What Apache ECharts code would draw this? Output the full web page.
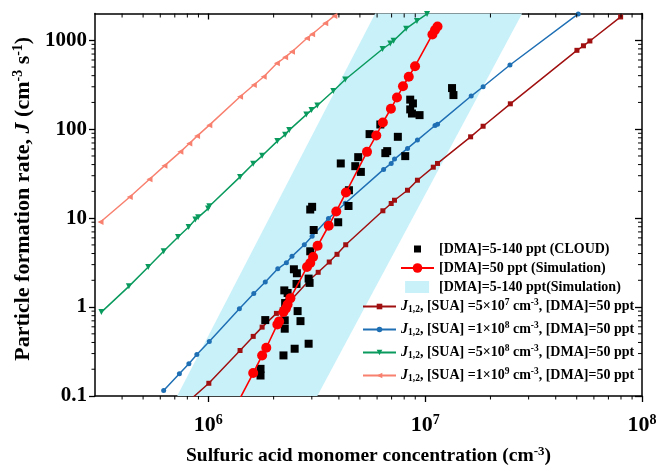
<!DOCTYPE html>
<html><head><meta charset="utf-8">
<script src="https://cdn.jsdelivr.net/npm/echarts@6/dist/echarts.min.js"></script>
<style>html,body{margin:0;padding:0;background:#fff}#c{width:657px;height:465px}</style>
</head><body><div id="c"></div>
<script>
// ---- axes ----
const xRange = [3e5, 1e8];
const yRange = [0.1, 2000];
const xMajorTicks = [1e6, 1e7, 1e8];
const yMajorTicks = [0.1, 1, 10, 100, 1000];
const xMinorTicks = [4e5,5e5,6e5,7e5,8e5,9e5,2e6,3e6,4e6,5e6,6e6,7e6,8e6,9e6,2e7,3e7,4e7,5e7,6e7,7e7,8e7,9e7];
const yMinorTicks = [0.2,0.3,0.4,0.5,0.6,0.7,0.8,0.9,2,3,4,5,6,7,8,9,20,30,40,50,60,70,80,90,200,300,400,500,600,700,800,900];

// ---- series names ----
const names = [
  '[DMA]=5-140 ppt (CLOUD)',
  '[DMA]=50 ppt (Simulation)',
  '[DMA]=5-140 ppt(Simulation)',
  'J1,2, [SUA] =5x10^7 cm-3, [DMA]=50 ppt',
  'J1,2, [SUA] =1x10^8 cm-3, [DMA]=50 ppt',
  'J1,2, [SUA] =5x10^8 cm-3, [DMA]=50 ppt',
  'J1,2, [SUA] =1x10^9 cm-3, [DMA]=50 ppt'
];
const suaMantissa = ['5', '1', '5', '1'];
const suaExponent = ['7', '8', '8', '9'];

// ---- data ----
const cloudX = [1.33e7,1.35e7,8.53e6,8.78e6,8.53e6,8.69e6,9.42e6,7.48e6,6.21e6,5.54e6,6.55e6,6.68e6,8.09e6,4.08e6,4.76e6,4.91e6,5.05e6,4.45e6,4.43e6,3.97e6,3.01e6,2.95e6,3.06e6,2.95e6,2.48e6,2.56e6,2.55e6,2.90e6,2.93e6,2.24e6,2.32e6,2.37e6,2.26e6,2.58e6,2.66e6,1.83e6,2.25e6,2.25e6,2.22e6,2.50e6,2.90e6,1.74e6,1.74e6];
const cloudY = [290,242,215,195,167,150,144,82.1,113,88.1,53.8,56.7,49.8,41.2,38.4,48.5,33.1,20.6,13.7,8.99,13.4,12.5,7.36,4.24,2.66,2.40,1.82,2.09,1.87,1.54,1.44,1.26,1.11,0.901,0.695,0.714,0.709,0.571,0.286,0.340,0.387,0.202,0.170];

const simX = [1.375e6,1.61e6,1.77e6,1.85e6,2.08e6,2.12e6,2.22e6,2.28e6,2.32e6,2.39e6,2.85e6,2.95e6,3.04e6,3.19e6,3.59e6,3.89e6,4.31e6,5.39e6,5.95e6,6.38e6,6.95e6,7.41e6,7.90e6,8.40e6,8.98e6,1.08e7,1.11e7,1.14e7];
const simY = [0.0867,0.181,0.286,0.349,0.638,0.690,0.879,0.967,1.07,1.26,2.82,3.13,3.66,4.89,8.21,11.9,19.4,55.6,85.1,119,170,227,304,389,511,1162,1306,1430];

const bandY = [0.1, 2000];
const bandLeftX = [7.18e5, 5.88e6];
const bandRightX = [3.18e6, 2.80e7];

const sua5e7X = [7.43e5,1.005e6,1.40e6,1.61e6,1.77e6,2.06e6,2.19e6,2.92e6,3.21e6,3.61e6,3.92e6,4.30e6,6.38e6,6.97e6,7.22e6,8.29e6,9.21e6,1.09e7,1.14e7,1.62e7,1.85e7,2.47e7,5.01e7,5.37e7,5.75e7,7.97e7];
const sua5e7Y = [0.0723,0.139,0.325,0.468,0.595,0.849,0.935,2.00,2.46,3.21,3.92,5.02,12.1,14.6,15.9,20.6,26.7,37.4,41.2,82.1,108,193,771,867,982,1829];

const sua1e8X = [6.22e5,7.35e5,8.13e5,8.85e5,1.01e6,1.39e6,1.62e6,1.83e6,2.09e6,2.29e6,2.43e6,2.77e6,3.01e6,3.58e6,4.28e6,6.43e6,6.97e6,7.22e6,8.29e6,9.21e6,1.11e7,1.14e7,1.63e7,1.85e7,2.46e7,5.08e7];
const sua1e8Y = [0.115,0.178,0.231,0.293,0.411,0.959,1.42,1.91,2.69,3.16,3.72,5.02,6.25,9.90,14.7,35.3,41.2,46.1,60.8,75.4,110,114,236,300,527,1978];

const sua5e8X = [3.21e5,4.30e5,5.28e5,6.22e5,7.25e5,8.11e5,8.71e5,8.97e5,9.97e5,1.01e6,1.40e6,1.61e6,1.77e6,2.08e6,2.26e6,2.36e6,2.83e6,2.99e6,3.18e6,3.77e6,4.28e6,6.36e6,6.90e6,7.15e6,8.17e6,9.16e6,1.02e7];
const sua5e8Y = [0.878,1.71,2.82,4.24,6.14,7.96,9.64,10.2,12.8,13.6,29.1,40.8,50.2,73.5,86.9,97.7,146,164,185,269,362,798,920,989,1351,1649,1977];

const sua1e9X = [3.18e5,4.34e5,5.35e5,6.27e5,7.43e5,8.17e5,8.87e5,1.01e6,1.40e6,1.62e6,1.80e6,2.07e6,2.26e6,2.43e6,2.85e6,3.01e6,3.46e6,3.81e6];
const sua1e9Y = [9.06,17.3,27.4,38.7,55.6,69.2,83.6,111,232,314,389,551,644,744,1054,1169,1554,1878];

// ---- styling ----
const F = '"Liberation Serif","Times New Roman",serif';
const colors = {cloud:'#000000', sim:'#ff0000', band:'#c9f1fa', s5e7:'#a01010', s1e8:'#1f6fb4', s5e8:'#0a9a5e', s1e9:'#f8806f'};
const zip = (a, b) => a.map((v, i) => [v, b[i]]);

const chart = echarts.init(document.getElementById('c'), null, {renderer: 'canvas'});

const LF = 14;
const richBase = {
  t: {fontFamily: F, fontWeight: 'bold', fontSize: LF, color: '#000', lineHeight: 17},
  i: {fontFamily: F, fontWeight: 'bold', fontStyle: 'italic', fontSize: LF, color: '#000', lineHeight: 17},
  sub: {fontFamily: F, fontWeight: 'bold', fontSize: 9.5, color: '#000', verticalAlign: 'bottom', lineHeight: 9},
  sup: {fontFamily: F, fontWeight: 'bold', fontSize: 9.5, color: '#000', verticalAlign: 'top', lineHeight: 8}
};

function legendFmt(name) {
  const k = names.indexOf(name) - 3;
  if (k < 0) return name;
  return '{i|J}{sub|1,2}{t|, [SUA] =' + suaMantissa[k] + '×10}{sup|' + suaExponent[k] + '}{t| cm}{sup|-3}{t|, [DMA]=50 ppt}';
}

const axisLineStyle = {show: true, lineStyle: {color: '#000', width: 1.5}};
const tickStyle = {color: '#000', width: 1.3};

const option = {
  animation: false,
  backgroundColor: '#fff',
  grid: {left: 95, right: 15, top: 13.5, bottom: 69, containLabel: false, outerBoundsMode: 'none'},
  xAxis: [
    {
      type: 'log', logBase: 10, min: xRange[0], max: xRange[1], position: 'bottom',
      splitLine: {show: false}, axisLine: axisLineStyle,
      axisTick: {show: true, customValues: xMajorTicks, length: 6, inside: false, lineStyle: tickStyle},
      axisLabel: {
        customValues: xMajorTicks, margin: 17,
        formatter: v => '{b|10}{s|' + Math.round(Math.log10(v)) + '}',
        rich: {
          b: {fontFamily: F, fontWeight: 'bold', fontSize: 22, color: '#000', lineHeight: 24},
          s: {fontFamily: F, fontWeight: 'bold', fontSize: 14, color: '#000', verticalAlign: 'top', lineHeight: 14}
        }
      },
      name: '{t|Sulfuric acid monomer concentration (cm}{s|-3}{t|)}',
      nameLocation: 'middle', nameGap: 49,
      nameTextStyle: {
        rich: {
          t: {fontFamily: F, fontWeight: 'bold', fontSize: 19.5, color: '#000', lineHeight: 22},
          s: {fontFamily: F, fontWeight: 'bold', fontSize: 13, color: '#000', verticalAlign: 'top', lineHeight: 11}
        }
      }
    },
    {
      type: 'log', logBase: 10, min: xRange[0], max: xRange[1], position: 'top',
      splitLine: {show: false}, axisLine: axisLineStyle,
      axisTick: {show: true, customValues: xMajorTicks, length: 6, inside: true, lineStyle: tickStyle},
      axisLabel: {show: false}
    }
  ],
  yAxis: [
    {
      type: 'log', logBase: 10, min: yRange[0], max: yRange[1], position: 'left',
      splitLine: {show: false}, axisLine: axisLineStyle,
      axisTick: {show: true, customValues: yMajorTicks, length: 6, inside: false, lineStyle: tickStyle},
      axisLabel: {
        customValues: yMajorTicks, margin: 8,
        formatter: v => String(v),
        fontFamily: F, fontWeight: 'bold', fontSize: 21, color: '#000'
      },
      name: '{t|Particle formation rate, }{i|J}{t| (cm}{s|-3}{t| s}{s|-1}{t|)}',
      nameLocation: 'middle', nameGap: 58,
      nameTextStyle: {
        padding: [0, 0, 0, 12],
        rich: {
          t: {fontFamily: F, fontWeight: 'bold', fontSize: 22, color: '#000', lineHeight: 24},
          i: {fontFamily: F, fontWeight: 'bold', fontStyle: 'italic', fontSize: 22, color: '#000', lineHeight: 24},
          s: {fontFamily: F, fontWeight: 'bold', fontSize: 14, color: '#000', verticalAlign: 'top', lineHeight: 12}
        }
      }
    },
    {
      type: 'log', logBase: 10, min: yRange[0], max: yRange[1], position: 'right',
      splitLine: {show: false}, axisLine: axisLineStyle,
      axisTick: {show: true, customValues: yMajorTicks, length: 7, inside: true, lineStyle: tickStyle},
      axisLabel: {show: false}
    }
  ],
  legend: [
    {
      orient: 'vertical', left: 395, top: 236, itemWidth: 33, itemHeight: 12, itemGap: 3,
      selectedMode: false,
      textStyle: {fontFamily: F, fontWeight: 'bold', fontSize: LF, color: '#000', lineHeight: 16},
      data: [
        {name: names[0], icon: 'path://M0,0M33,12M13,2.5h7v7h-7Z'},
        {name: names[1]},
        {name: names[2], icon: 'path://M0,0M33,12M1,-1.5h30v15h-30Z'}
      ]
    },
    {
      orient: 'vertical', left: 357, top: 293, itemWidth: 33, itemHeight: 7, itemGap: 6,
      selectedMode: false,
      formatter: legendFmt,
      textStyle: {fontFamily: F, fontWeight: 'bold', fontSize: LF, color: '#000', rich: richBase},
      data: [names[3], names[4], names[5], names[6]]
    }
  ],
  series: [
    {
      name: names[2], type: 'custom', xAxisIndex: 0, yAxisIndex: 0, z: 1, silent: true,
      itemStyle: {color: colors.band},
      data: [[bandLeftX[0], bandY[0]]],
      renderItem: (params, api) => {
        const pts = [
          [bandLeftX[0], bandY[0]], [bandRightX[0], bandY[0]],
          [bandRightX[1], bandY[1]], [bandLeftX[1], bandY[1]]
        ].map(p => api.coord(p));
        return {type: 'polygon', shape: {points: pts}, style: {fill: colors.band}};
      }
    },
    {
      name: names[3], type: 'line', z: 2, data: zip(sua5e7X, sua5e7Y), showAllSymbol: true,
      symbol: 'rect', symbolSize: 5, color: colors.s5e7,
      lineStyle: {width: 1.5, color: colors.s5e7}, itemStyle: {color: colors.s5e7}
    },
    {
      name: names[4], type: 'line', z: 2, data: zip(sua1e8X, sua1e8Y), showAllSymbol: true,
      symbol: 'circle', symbolSize: 5, color: colors.s1e8,
      lineStyle: {width: 1.5, color: colors.s1e8}, itemStyle: {color: colors.s1e8}
    },
    {
      name: names[5], type: 'line', z: 2, data: zip(sua5e8X, sua5e8Y), showAllSymbol: true,
      symbol: 'triangle', symbolRotate: 180, symbolSize: 6, color: colors.s5e8,
      lineStyle: {width: 1.5, color: colors.s5e8}, itemStyle: {color: colors.s5e8}
    },
    {
      name: names[6], type: 'line', z: 2, data: zip(sua1e9X, sua1e9Y), showAllSymbol: true,
      symbol: 'triangle', symbolRotate: 90, symbolSize: 6, color: colors.s1e9,
      lineStyle: {width: 1.5, color: colors.s1e9}, itemStyle: {color: colors.s1e9}
    },
    {
      name: names[0], type: 'scatter', z: 3, data: zip(cloudX, cloudY),
      symbol: 'rect', symbolSize: 8, itemStyle: {color: colors.cloud, opacity: 1}
    },
    {
      name: names[1], type: 'line', z: 4, data: zip(simX, simY), showAllSymbol: true,
      symbol: 'circle', symbolSize: 10, color: colors.sim,
      lineStyle: {width: 1.6, color: colors.sim}, itemStyle: {color: colors.sim}
    },
    {
      name: 'minor ticks', type: 'custom', z: 6, silent: true,
      data: [[xRange[0], yRange[0]]],
      renderItem: (params, api) => {
        const bl = api.coord([xRange[0], yRange[0]]);
        const tr = api.coord([xRange[1], yRange[1]]);
        const st = {stroke: '#000', lineWidth: 1};
        const ch = [];
        xMinorTicks.forEach(v => {
          const x = api.coord([v, yRange[0]])[0];
          ch.push({type: 'line', shape: {x1: x, y1: bl[1], x2: x, y2: bl[1] + 3.5}, style: st});
          ch.push({type: 'line', shape: {x1: x, y1: tr[1], x2: x, y2: tr[1] + 4}, style: st});
        });
        yMinorTicks.forEach(v => {
          const y = api.coord([xRange[0], v])[1];
          ch.push({type: 'line', shape: {x1: bl[0] - 3.5, y1: y, x2: bl[0], y2: y}, style: st});
          ch.push({type: 'line', shape: {x1: tr[0] - 4, y1: y, x2: tr[0], y2: y}, style: st});
        });
        return {type: 'group', children: ch};
      }
    }
  ]
};
chart.setOption(option);
</script>
</body></html>
